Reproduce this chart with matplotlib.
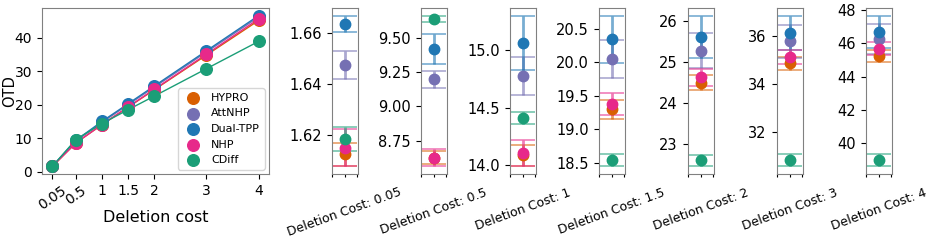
import matplotlib
matplotlib.use('Agg')
import matplotlib.pyplot as plt
from matplotlib.colors import to_rgba

# deletion costs and OTD means / std errors
costs = [0.05, 0.5, 1, 1.5, 2, 3, 4]
cost_labels = ['0.05', '0.5', '1', '1.5', '2', '3', '4']

hypro = [1.6126, 8.627, 14.087, 19.30, 24.50, 34.87, 45.22]
hypro_err = [0.0045, 0.05, 0.09, 0.14, 0.18, 0.28, 0.37]
attnhp = [1.6474, 9.197, 14.777, 20.045, 25.28, 35.79, 46.26]
attnhp_err = [0.0055, 0.063, 0.166, 0.285, 0.43, 0.69, 0.92]
dualtpp = [1.6635, 9.415, 15.064, 20.341, 25.62, 36.15, 46.68]
dualtpp_err = [0.0033, 0.11, 0.237, 0.355, 0.51, 0.73, 0.98]
nhp = [1.6152, 8.627, 14.104, 19.377, 24.63, 35.13, 45.68]
nhp_err = [0.0074, 0.065, 0.115, 0.16, 0.21, 0.30, 0.40]
cdiff = [1.6184, 9.636, 14.412, 18.545, 22.61, 30.80, 38.97]
cdiff_err = [0.0047, 0.025, 0.05, 0.095, 0.145, 0.26, 0.37]

models = ['HYPRO', 'AttNHP', 'Dual-TPP', 'NHP', 'CDiff']
means = [hypro, attnhp, dualtpp, nhp, cdiff]
errs = [hypro_err, attnhp_err, dualtpp_err, nhp_err, cdiff_err]
colors = ['#d95f02', '#7570b3', '#1f77b4', '#e7298a', '#1b9e77']

panel_yticks = [
    [1.62, 1.64, 1.66],
    [8.75, 9.00, 9.25, 9.50],
    [14.0, 14.5, 15.0],
    [18.5, 19.0, 19.5, 20.0, 20.5],
    [23, 24, 25, 26],
    [32, 34, 36],
    [40, 42, 44, 46, 48],
]
panel_fmt = ['%.2f', '%.2f', '%.1f', '%.1f', '%d', '%d', '%d']

W, H = 934, 244
fig = plt.figure(figsize=(W / 100, H / 100), dpi=100)
spine_col = '0.5'

def px(l, t, r, b):
    return [l / W, (H - b) / H, (r - l) / W, (b - t) / H]

# main line chart
ax = fig.add_axes(px(42, 8, 269, 174))
for name, m, c in zip(models, means, colors):
    ax.plot(costs, m, '-', color=c, lw=1)
    ax.scatter(costs, m, s=70, color=c, label=name, zorder=3)
ax.set_xticks(costs)
ax.set_xticklabels(cost_labels, fontsize=10)
for i, t in enumerate(ax.get_xticklabels()):
    if i < 2:
        t.set_rotation(35)
ax.set_yticks([0, 10, 20, 30, 40])
ax.tick_params(axis='y', labelsize=10)
ax.set_xlabel('Deletion cost', fontsize=11.5, labelpad=-2)
ax.set_ylabel('OTD', fontsize=10.5)
ax.yaxis.set_label_coords(-0.108, 0.5)
ax.legend(loc='lower right', fontsize=8, borderaxespad=0.4, handletextpad=0.6)
for s in ax.spines.values():
    s.set_color(spine_col)

# small per-cost panels
for k in range(len(costs)):
    left = 331.5 + 89 * k
    a = fig.add_axes(px(left, 8, left + 26.7, 174))
    for name, m, e, c in zip(models, means, errs, colors):
        a.errorbar(0, m[k], yerr=e[k], fmt='o', color=c, ms=7.5,
                   ecolor=to_rgba(c, 0.6), elinewidth=2, capsize=8.5, capthick=1.2)
    a.set_xlim(-1.08, 1.08)
    a.set_xticks([-1, 0, 1])
    a.set_xticklabels(['', 'Deletion Cost: ' + cost_labels[k], ''],
                      rotation=20, fontsize=9)
    a.tick_params(axis='x', length=2.5, pad=6)
    a.set_yticks(panel_yticks[k])
    a.set_yticklabels([panel_fmt[k] % v for v in panel_yticks[k]], fontsize=10.5)
    for s in a.spines.values():
        s.set_color(spine_col)

fig.savefig('out.png', dpi=100)
